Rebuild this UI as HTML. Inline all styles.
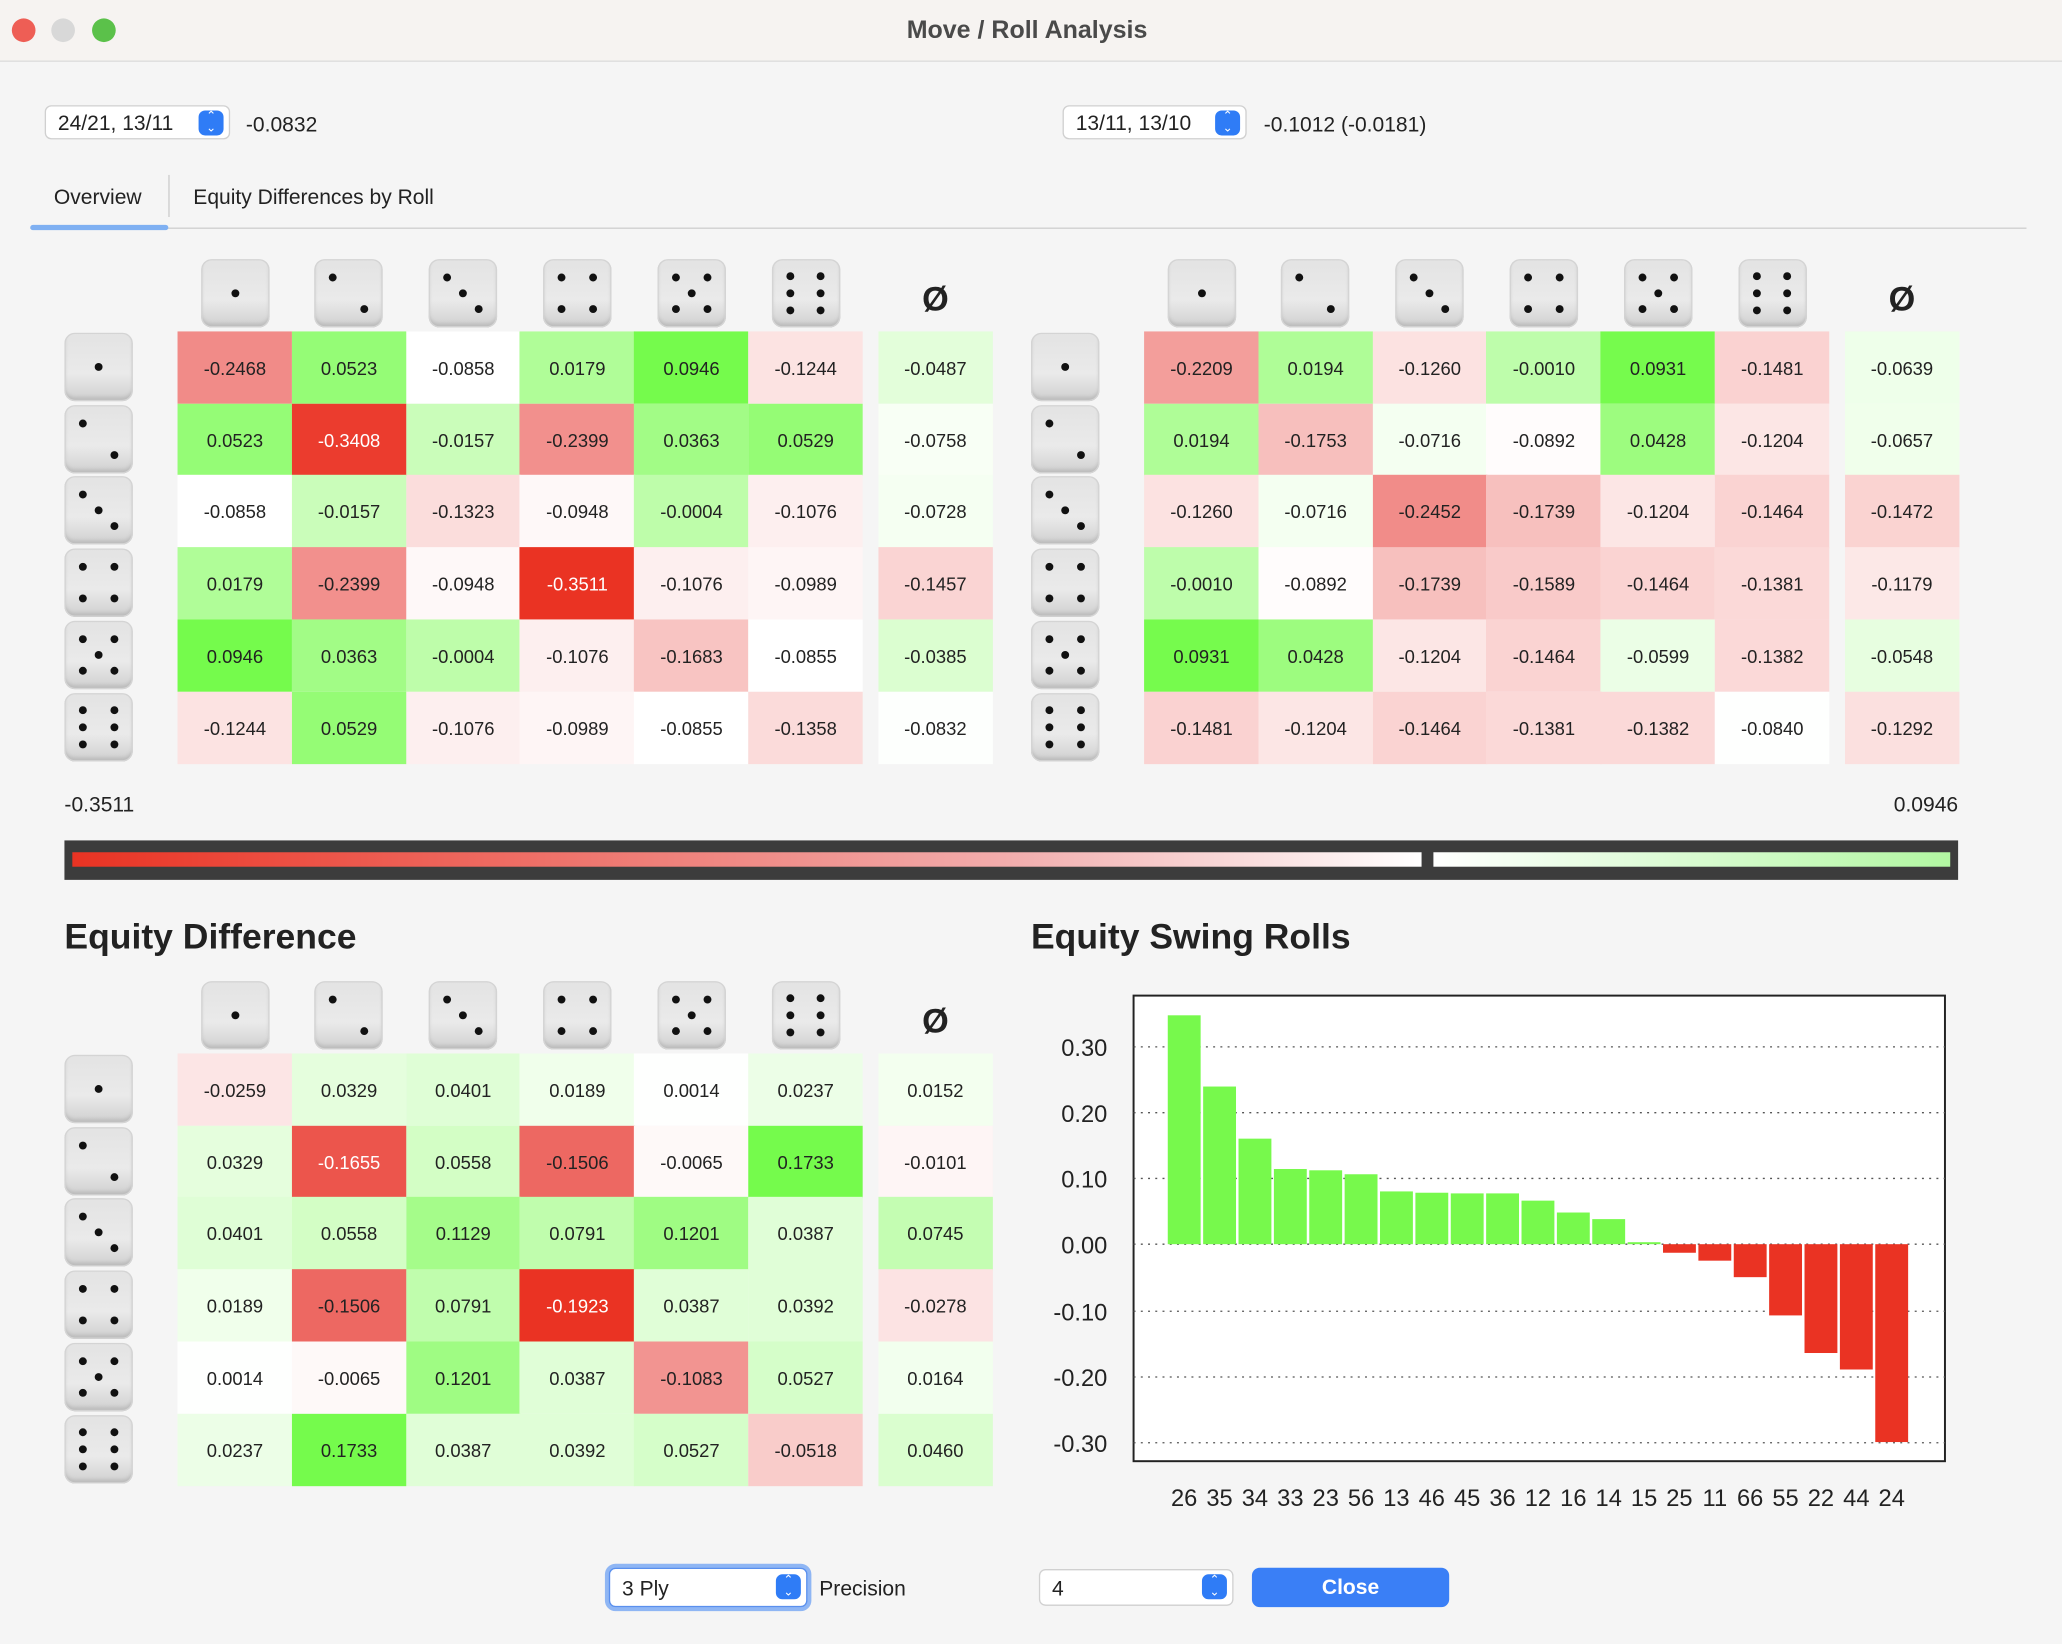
<!DOCTYPE html>
<html><head><meta charset="utf-8">
<style>
html,body{margin:0;padding:0;background:#f5f5f5;overflow:hidden;width:2062px;height:1644px}
#w{position:absolute;left:0;top:0;width:1568px;height:1250px;transform:scale(1.31505,1.3152);transform-origin:0 0;font-family:"Liberation Sans",sans-serif;color:#222;background:#f5f5f5}
.a{position:absolute}
.tb{left:0;top:0;width:1568px;height:46px;background:#f6f3f1;border-bottom:1px solid #dcdcdc}
.dot{width:18px;height:18px;border-radius:50%;top:14px}
.sel{background:#fff;border:1px solid #d0d0d0;border-radius:5px;height:26px;font-size:16px;line-height:28px;box-sizing:border-box;padding-left:9px}
.stp{position:absolute;right:4px;top:3px;width:19px;height:19px;border-radius:5px;background:#2f7cf6;color:#fff;font-size:9px;line-height:9px;text-align:center}
.cell{position:absolute;font-size:14px;text-align:center;display:flex;align-items:center;justify-content:center;padding-top:1px;box-sizing:border-box}
.die{position:absolute;width:52px;height:52px;border-radius:8px;background:linear-gradient(#e3e3e3,#eaeaea 60%,#cfcfcf);box-shadow:inset 0 0 0 1px #d4d4d4,inset 0 -3px 3px #bbb}
.pip{position:absolute;width:6px;height:6px;border-radius:50%;background:#111}
.h2{font-size:27px;font-weight:bold;color:#222}
</style></head><body><div id="w">
<div class="a tb"></div>
<div class="a dot" style="left:9px;background:#ee5e55"></div>
<div class="a dot" style="left:39px;background:#d8d8d8"></div>
<div class="a dot" style="left:70px;background:#5bc14a"></div>
<div class="a" style="left:0;width:1562px;top:13px;text-align:center;font-size:19px;font-weight:bold;color:#4a4a4a">Move / Roll Analysis</div>

<div class="a sel" style="left:34px;top:80px;width:141px">24/21, 13/11<div class="stp">⌃<br>⌄</div></div>
<div class="a" style="left:187px;top:87px;font-size:16px">-0.0832</div>
<div class="a sel" style="left:808px;top:80px;width:140px">13/11, 13/10<div class="stp">⌃<br>⌄</div></div>
<div class="a" style="left:961px;top:87px;font-size:16px">-0.1012 (-0.0181)</div>

<div class="a" style="left:41px;top:142px;font-size:16px">Overview</div>
<div class="a" style="left:128px;top:133px;width:1px;height:32px;background:#ccc"></div>
<div class="a" style="left:147px;top:142px;font-size:16px">Equity Differences by Roll</div>
<div class="a" style="left:23px;top:173px;width:1518px;height:1px;background:#cfcfcf"></div>
<div class="a" style="left:23px;top:171px;width:105px;height:4px;background:#7fb0f2;border-radius:2px"></div>

<div class="a" style="left:49px;top:604px;font-size:16px">-0.3511</div>
<div class="a" style="left:1389px;width:100px;text-align:right;top:604px;font-size:16px">0.0946</div>
<div class="a" style="left:49px;top:639px;width:1440px;height:30px;background:#3c3c3c"></div>
<div class="a" style="left:55px;top:648px;width:1026px;height:11px;background:linear-gradient(90deg,#ea3323,#f2aeae 70%,#fff)"></div>
<div class="a" style="left:1090px;top:648px;width:393px;height:11px;background:linear-gradient(90deg,#fff,#b2f7a2)"></div>

<div class="a h2" style="left:49px;top:697px">Equity Difference</div>
<div class="a h2" style="left:784px;top:697px">Equity Swing Rolls</div>

<div id="grids"></div>

<svg class="a" style="left:780px;top:750px" width="720" height="410">
<rect x="82" y="7" width="617" height="354" fill="#fff" stroke="#222" stroke-width="1.5"/>
<g stroke="#555" stroke-dasharray="1.5,4" stroke-width="1">
<line x1="82" x2="699" y1="46" y2="46"/><line x1="82" x2="699" y1="96" y2="96"/><line x1="82" x2="699" y1="146" y2="146"/><line x1="82" x2="699" y1="196" y2="196"/><line x1="82" x2="699" y1="247" y2="247"/><line x1="82" x2="699" y1="297" y2="297"/><line x1="82" x2="699" y1="347" y2="347"/>
</g>
<g font-family="Liberation Sans,sans-serif" font-size="18" fill="#222" text-anchor="end">
<text x="62" y="53">0.30</text><text x="62" y="103">0.20</text><text x="62" y="153">0.10</text><text x="62" y="203">0.00</text><text x="62" y="254">-0.10</text><text x="62" y="304">-0.20</text><text x="62" y="354">-0.30</text>
</g>
<g id="bars"></g>
</svg>

<div class="a sel" style="left:463px;top:1192px;width:151px;height:30px;line-height:31px;box-shadow:0 0 0 3px #8fb6f4;border-color:#5a90ee">3 Ply<div class="stp" style="top:4px">⌃<br>⌄</div></div>
<div class="a" style="left:623px;top:1200px;font-size:16px">Precision</div>
<div class="a sel" style="left:790px;top:1193px;width:148px;height:28px;line-height:30px">4<div class="stp">⌃<br>⌄</div></div>
<div class="a" style="left:952px;top:1192px;width:150px;height:30px;border-radius:6px;background:#3a7ff6;color:#fff;font-weight:bold;font-size:16px;text-align:center;line-height:32px">Close</div>
</div>
<script>
function mix(a,b,t){t=Math.max(0,Math.min(1,t));return 'rgb('+a.map((x,i)=>Math.round(x+(b[i]-x)*t)).join(',')+')';}
const W=[255,255,255],R=[234,51,35],G=[117,251,76];
function red(t){t=Math.max(0,Math.min(1,t));if(t<0.75)return mix(W,[238,112,108],t/0.75);return mix([238,112,108],R,(t-0.75)/0.25);}
function col(v,mn,mid,mx){return v<mid?red((mid-v)/(mid-mn)):mix(W,G,(v-mid)/(mx-mid));}
const P={1:[[.5,.5]],2:[[.27,.27],[.73,.73]],3:[[.27,.27],[.5,.5],[.73,.73]],4:[[.27,.27],[.73,.27],[.27,.73],[.73,.73]],5:[[.27,.27],[.73,.27],[.5,.5],[.27,.73],[.73,.73]],6:[[.27,.25],[.73,.25],[.27,.5],[.73,.5],[.27,.75],[.73,.75]]};
let h='';
function die(n,x,y){let s='<div class="die" style="left:'+x+'px;top:'+y+'px">';for(const p of P[n])s+='<div class="pip" style="left:'+(p[0]*52-3)+'px;top:'+(p[1]*52-3)+'px"></div>';return s+'</div>';}
function grid(X,Y,d,avg,mn,mid,mx){
 const cw=86.8,ch=54.7,gx=X+86;
 for(let i=0;i<6;i++)h+=die(i+1,gx+18+i*cw-0.5,Y-55);
 h+='<div class="a" style="left:'+(gx+6*cw+12)+'px;width:87px;text-align:center;top:'+(Y-40)+'px;font-size:26px;font-weight:bold">Ø</div>';
 for(let r=0;r<6;r++){h+=die(r+1,X,Y+r*ch+1);
  for(let c=0;c<6;c++){const v=d[r][c];const bg=col(v,mn,mid,mx);const t=(v<mid&&(mid-v)/(mid-mn)>0.85)?'#fff':'#222';
   h+='<div class="cell" style="left:'+(gx+c*cw)+'px;top:'+(Y+r*ch)+'px;width:'+(cw+0.5)+'px;height:'+(ch+0.5)+'px;background:'+bg+';color:'+t+'">'+v.toFixed(4)+'</div>';}
  const v=avg[r];h+='<div class="cell" style="left:'+(gx+6*cw+12)+'px;top:'+(Y+r*ch)+'px;width:87px;height:'+(ch+0.5)+'px;background:'+col(v,mn,mid,mx)+'">'+v.toFixed(4)+'</div>';}
}
grid(49,252,[[-.2468,.0523,-.0858,.0179,.0946,-.1244],[.0523,-.3408,-.0157,-.2399,.0363,.0529],[-.0858,-.0157,-.1323,-.0948,-.0004,-.1076],[.0179,-.2399,-.0948,-.3511,-.1076,-.0989],[.0946,.0363,-.0004,-.1076,-.1683,-.0855],[-.1244,.0529,-.1076,-.0989,-.0855,-.1358]],[-.0487,-.0758,-.0728,-.1457,-.0385,-.0832],-.3511,-.0855,.0946);
grid(784,252,[[-.2209,.0194,-.1260,-.0010,.0931,-.1481],[.0194,-.1753,-.0716,-.0892,.0428,-.1204],[-.1260,-.0716,-.2452,-.1739,-.1204,-.1464],[-.0010,-.0892,-.1739,-.1589,-.1464,-.1381],[.0931,.0428,-.1204,-.1464,-.0599,-.1382],[-.1481,-.1204,-.1464,-.1381,-.1382,-.0840]],[-.0639,-.0657,-.1472,-.1179,-.0548,-.1292],-.3511,-.0855,.0946);
grid(49,801,[[-.0259,.0329,.0401,.0189,.0014,.0237],[.0329,-.1655,.0558,-.1506,-.0065,.1733],[.0401,.0558,.1129,.0791,.1201,.0387],[.0189,-.1506,.0791,-.1923,.0387,.0392],[.0014,-.0065,.1201,.0387,-.1083,.0527],[.0237,.1733,.0387,.0392,.0527,-.0518]],[.0152,-.0101,.0745,-.0278,.0164,.0460],-.1923,0,.1733);
document.getElementById('grids').innerHTML=h;
const vals=[.347,.239,.16,.114,.112,.106,.08,.078,.077,.077,.066,.048,.038,.003,-.013,-.025,-.05,-.108,-.165,-.19,-.30];
const labs=['26','35','34','33','23','56','13','46','45','36','12','16','14','15','25','11','66','55','22','44','24'];
let b='';vals.forEach((v,i)=>{const x=108+i*26.9,y0=196,hh=v*501.5;b+='<rect x="'+x+'" y="'+(v>0?y0-hh:y0)+'" width="25" height="'+Math.abs(hh)+'" fill="'+(v>0?'#77f94c':'#ea3323')+'"/>';
b+='<text x="'+(x+12.5)+'" y="395" text-anchor="middle" font-family="Liberation Sans,sans-serif" font-size="18" fill="#222">'+labs[i]+'</text>';});
document.getElementById('bars').innerHTML=b;
</script>
</body></html>
